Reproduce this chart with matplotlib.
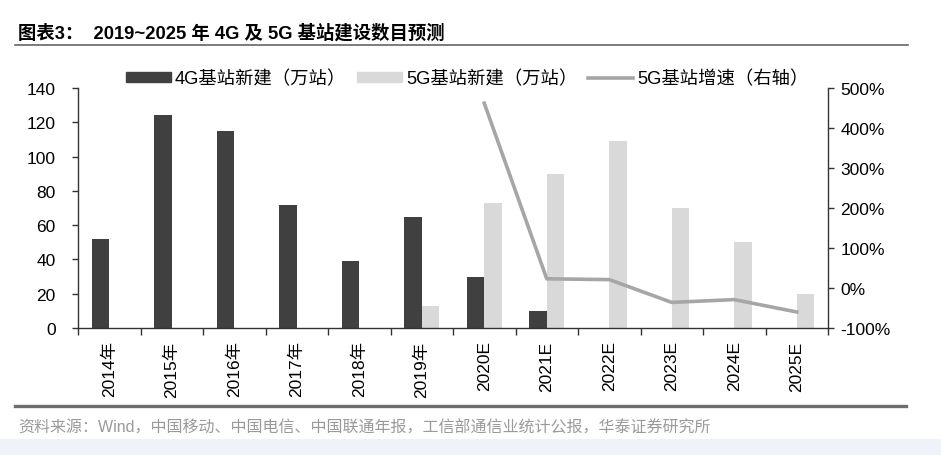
import matplotlib
matplotlib.use("Agg")
import matplotlib.pyplot as plt
from matplotlib.patches import Rectangle
from matplotlib.lines import Line2D
import numpy as np

plt.rcParams['font.family'] = ['Liberation Sans', 'Noto Sans CJK SC', 'DejaVu Sans']

categories = ["2014年", "2015年", "2016年", "2017年", "2018年", "2019年",
              "2020E", "2021E", "2022E", "2023E", "2024E", "2025E"]
g4_new = [52, 124, 115, 72, 39, 65, 30, 10, 0, 0, 0, 0]
g5_new = [0, 0, 0, 0, 0, 13, 73, 90, 109, 70, 50, 20]
growth_cats = ["2020E", "2021E", "2022E", "2023E", "2024E", "2025E"]
g5_growth = [462, 23, 21, -36, -29, -60]  # percent

left_ticks = [0, 20, 40, 60, 80, 100, 120, 140]
right_ticks = [-100, 0, 100, 200, 300, 400, 500]

fig = plt.figure(figsize=(9.41, 4.56), dpi=100)
fig.patch.set_facecolor('white')
fig.patches.append(Rectangle((0, 0), 1, 16/456, transform=fig.transFigure,
                             facecolor='#eef2f9', edgecolor='none', zorder=0))

ax = fig.add_axes([78/941, 1-329/456, 750/941, 240/456])
x = np.arange(len(categories))
w = 0.28
c4 = '#404040'
c5 = '#d9d9d9'
cl = '#a6a6a6'
ax.bar(x - w/2, g4_new, width=w, color=c4, zorder=2)
ax.bar(x + w/2, g5_new, width=w, color=c5, zorder=2)
ax.set_xlim(-0.5, len(categories) - 0.5)
ax.set_ylim(0, 140)
ax.set_yticks(left_ticks)
ax.set_yticklabels([str(v) for v in left_ticks], fontsize=12.5)
ax.set_xticks(x)
ax.set_xticklabels(categories, rotation=90, fontsize=12.5)
ax.set_xticks(np.arange(-0.5, len(categories)), minor=True)
ax.tick_params(axis='x', which='major', length=0, pad=9)
ax.tick_params(axis='x', which='minor', length=5, width=1, color='#333333', direction='out')
ax.tick_params(axis='y', length=4.5, width=1, color='#333333', direction='out', pad=11.5)
ax.spines['top'].set_visible(False)
ax.spines['right'].set_visible(False)
for s in ['left', 'bottom']:
    ax.spines[s].set_color('#333333')
    ax.spines[s].set_linewidth(1)

ax2 = ax.twinx()
gx = [categories.index(c) for c in growth_cats]
ax2.plot(gx, g5_growth, color=cl, linewidth=2.6, zorder=3)
ax2.set_ylim(-100, 500)
ax2.set_yticks(right_ticks)
ax2.set_yticklabels([f"{v}%" for v in right_ticks], fontsize=12.5)
ax2.tick_params(axis='y', length=4, width=1, color='#333333', direction='out', pad=5)
ax2.spines['top'].set_visible(False)
ax2.spines['left'].set_visible(False)
ax2.spines['bottom'].set_visible(False)
ax2.spines['right'].set_color('#333333')
ax2.spines['right'].set_linewidth(1)

handles = [Rectangle((0, 0), 1, 1, color=c4),
           Rectangle((0, 0), 1, 1, color=c5),
           Line2D([0], [0], color=cl, linewidth=2.6)]
labels = ["4G基站新建（万站）", "5G基站新建（万站）", "5G基站增速（右轴）"]
fig.legend(handles, labels, loc='center', bbox_to_anchor=(467/941, 1-80/456),
           ncol=3, frameon=False, handlelength=2.5,
           handletextpad=0.2, columnspacing=0.55, handleheight=0.5,
           prop={'family': ['Liberation Sans', 'Noto Sans CJK SC'], 'size': 13.2})

fig.text(18/941, 1-33/456, "图表3：  2019~2025 年 4G 及 5G 基站建设数目预测",
         fontsize=13.2, fontweight='bold', va='center', ha='left',
         family=['Liberation Sans', 'Noto Sans CJK SC'])
fig.add_artist(Line2D([15/941, 908/941], [1-46/456, 1-46/456], color='#666666',
                      linewidth=1.2, transform=fig.transFigure))
fig.add_artist(Line2D([15/941, 906/941], [1-407/456, 1-407/456], color='#6e6e6e',
                      linewidth=2.4, transform=fig.transFigure))
fig.text(18/941, 1-428/456, "资料来源：Wind，中国移动、中国电信、中国联通年报，工信部通信业统计公报，华泰证券研究所",
         fontsize=11.5, color='#9a9a9a', va='center', ha='left',
         family=['Liberation Sans', 'Noto Sans CJK SC'])

fig.savefig("out.png", dpi=100)
